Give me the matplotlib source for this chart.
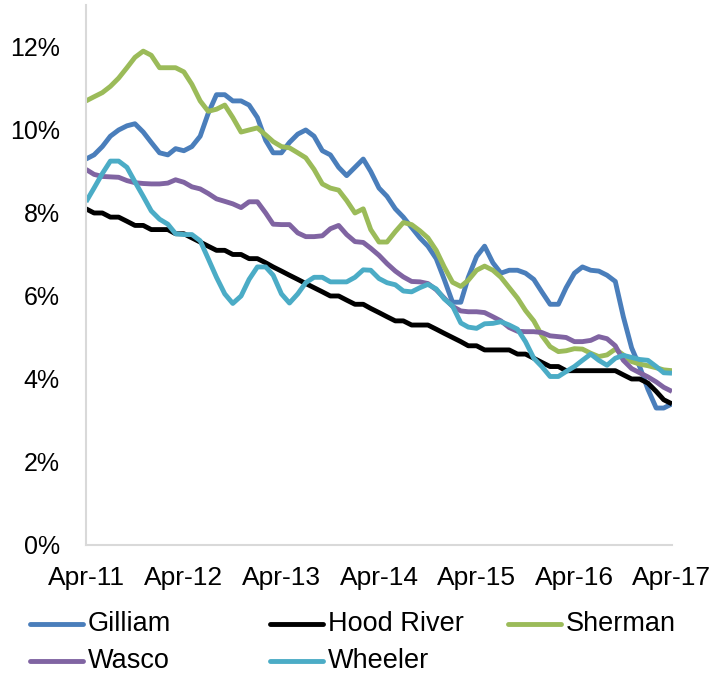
import pandas as pd
import matplotlib.pyplot as plt
import matplotlib.dates as mdates
from matplotlib.lines import Line2D
from matplotlib.ticker import FuncFormatter

plt.rcParams['font.family'] = ['Liberation Sans', 'DejaVu Sans']

# monthly unemployment rates, Apr-11 .. Apr-17 (percent)
months = pd.date_range("2011-04-01", periods=73, freq="MS")

gilliam = [9.3, 9.4, 9.6, 9.85, 10.0, 10.1, 10.15, 9.95, 9.7, 9.45, 9.4, 9.55, 9.5,
           9.6, 9.85, 10.4, 10.85, 10.85, 10.7, 10.7, 10.6, 10.3, 9.75, 9.45, 9.45,
           9.7, 9.9, 10.0, 9.85, 9.5, 9.4, 9.1, 8.9, 9.1, 9.3, 9.0, 8.6,
           8.4, 8.1, 7.9, 7.65, 7.4, 7.2, 6.9, 6.4, 5.85, 5.85, 6.45, 6.95,
           7.2, 6.8, 6.55, 6.62, 6.62, 6.55, 6.4, 6.1, 5.8, 5.8, 6.2, 6.55,
           6.7, 6.62, 6.6, 6.5, 6.35, 5.5, 4.75, 4.3, 3.75, 3.3, 3.3, 3.4]

hood_river = [8.1, 8.0, 8.0, 7.9, 7.9, 7.8, 7.7, 7.7, 7.6, 7.6, 7.6, 7.5, 7.5,
              7.4, 7.3, 7.2, 7.1, 7.1, 7.0, 7.0, 6.9, 6.9, 6.8, 6.7, 6.6,
              6.5, 6.4, 6.3, 6.2, 6.1, 6.0, 6.0, 5.9, 5.8, 5.8, 5.7, 5.6,
              5.5, 5.4, 5.4, 5.3, 5.3, 5.3, 5.2, 5.1, 5.0, 4.9, 4.8, 4.8,
              4.7, 4.7, 4.7, 4.7, 4.6, 4.6, 4.5, 4.4, 4.3, 4.3, 4.2, 4.2,
              4.2, 4.2, 4.2, 4.2, 4.2, 4.1, 4.0, 4.0, 3.9, 3.7, 3.5, 3.4]

sherman = [10.7, 10.8, 10.9, 11.05, 11.25, 11.5, 11.75, 11.9, 11.8, 11.5, 11.5, 11.5, 11.4,
           11.1, 10.7, 10.45, 10.5, 10.6, 10.3, 9.95, 10.0, 10.05, 9.88, 9.72, 9.6,
           9.57, 9.45, 9.33, 9.05, 8.7, 8.6, 8.55, 8.3, 8.0, 8.1, 7.6, 7.3,
           7.3, 7.55, 7.77, 7.72, 7.57, 7.4, 7.1, 6.7, 6.33, 6.23, 6.38, 6.62,
           6.72, 6.62, 6.45, 6.2, 5.95, 5.65, 5.4, 5.05, 4.78, 4.66, 4.68, 4.73,
           4.72, 4.62, 4.54, 4.58, 4.72, 4.58, 4.42, 4.36, 4.32, 4.27, 4.22, 4.2]

wasco = [9.05, 8.93, 8.88, 8.87, 8.86, 8.78, 8.73, 8.71, 8.7, 8.7, 8.72, 8.8, 8.74,
         8.63, 8.58, 8.47, 8.34, 8.28, 8.22, 8.13, 8.27, 8.27, 8.0, 7.73, 7.72,
         7.72, 7.52, 7.43, 7.43, 7.45, 7.62, 7.7, 7.48, 7.31, 7.29, 7.15, 6.98,
         6.78, 6.6, 6.46, 6.35, 6.34, 6.3, 6.15, 5.95, 5.75, 5.64, 5.62, 5.62,
         5.6, 5.5, 5.4, 5.24, 5.15, 5.14, 5.14, 5.12, 5.04, 5.02, 5.0, 4.9,
         4.9, 4.93, 5.02, 4.97, 4.8, 4.45, 4.25, 4.15, 4.05, 3.93, 3.8, 3.7]

wheeler = [8.27, 8.6, 8.95, 9.25, 9.25, 9.1, 8.75, 8.4, 8.05, 7.85, 7.73, 7.5, 7.48,
           7.48, 7.33, 6.9, 6.45, 6.05, 5.82, 6.0, 6.4, 6.7, 6.7, 6.5, 6.05,
           5.83, 6.05, 6.32, 6.45, 6.45, 6.34, 6.34, 6.34, 6.45, 6.63, 6.62, 6.42,
           6.32, 6.27, 6.12, 6.1, 6.2, 6.28, 6.17, 5.93, 5.76, 5.35, 5.25, 5.22,
           5.33, 5.34, 5.38, 5.3, 5.2, 4.9, 4.5, 4.3, 4.06, 4.06, 4.18, 4.3,
           4.45, 4.6, 4.45, 4.33, 4.5, 4.57, 4.52, 4.47, 4.45, 4.3, 4.15, 4.14]

names = ["Gilliam", "Hood River", "Sherman", "Wasco", "Wheeler"]
colors = ["#4A7EBB", "#000000", "#9BBB59", "#8064A2", "#4BACC6"]
series = [gilliam, hood_river, sherman, wasco, wheeler]

fig = plt.figure(figsize=(7.26, 6.75), dpi=100)
ax = fig.add_axes([0.1185, 0.1926, 0.8071, 0.7993])

for vals, c in zip(series, colors):
    ax.plot(months, vals, color=c, lw=3.5, solid_joinstyle="round", solid_capstyle="butt")

ax.set_ylim(0, 13)
ax.set_yticks([0, 2, 4, 6, 8, 10, 12])
ax.yaxis.set_major_formatter(FuncFormatter(lambda v, p: "{:.0f}%".format(v)))
ax.set_xlim(months[0], months[-1])
ax.xaxis.set_major_locator(mdates.MonthLocator(bymonth=4))
ax.xaxis.set_major_formatter(mdates.DateFormatter("%b-%y"))

for s in ["top", "right"]:
    ax.spines[s].set_visible(False)
for s in ["left", "bottom"]:
    ax.spines[s].set_color("#D9D9D9")
    ax.spines[s].set_linewidth(1.5)
ax.tick_params(axis="both", length=0)
ax.tick_params(axis="y", pad=19, labelsize=18)
ax.tick_params(axis="x", pad=15, labelsize=19)

# legend laid out like Excel's, row by row
leg_x = [30, 270, 508]
leg_y = [624, 661]
W, H = 726.0, 675.0
for i, (name, c) in enumerate(zip(names, colors)):
    row, col = divmod(i, 3)
    x0 = leg_x[col]
    y = 1 - leg_y[row] / H
    fig.add_artist(Line2D([x0 / W, (x0 + 53) / W], [y, y], color=c, lw=3.5,
                          transform=fig.transFigure, solid_capstyle="round"))
    fig.text((x0 + 58) / W, y, name, fontsize=19.5, va="center", ha="left")

fig.savefig("out.png", dpi=100)
